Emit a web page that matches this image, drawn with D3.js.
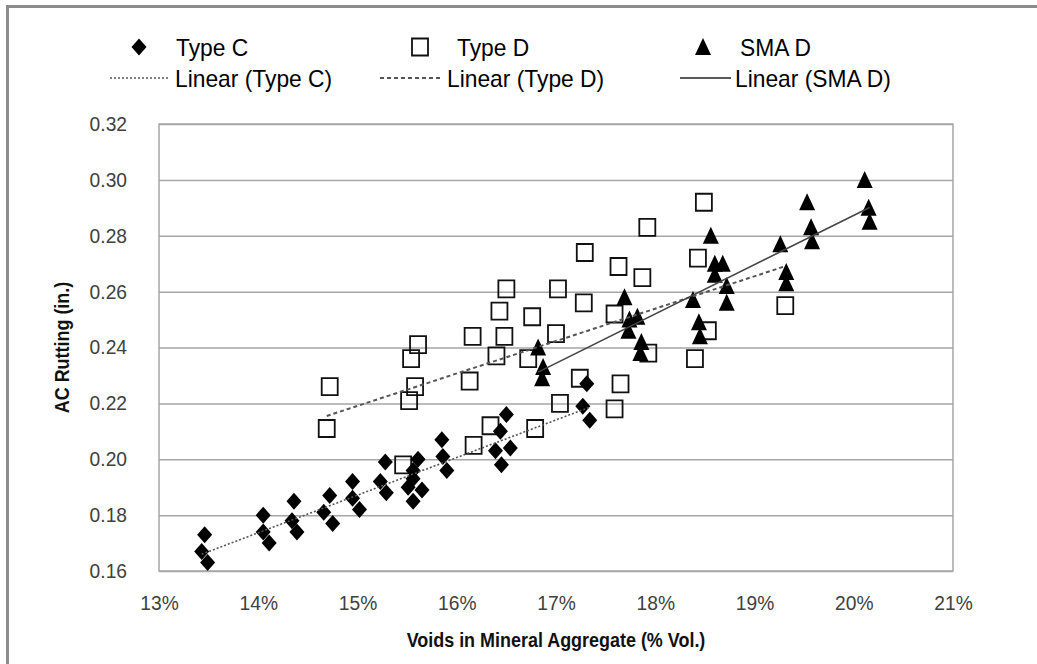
<!DOCTYPE html>
<html>
<head>
<meta charset="utf-8">
<script src="https://cdn.jsdelivr.net/npm/d3@7"></script>
<style>
  html, body { margin: 0; padding: 0; background: #fff; }
  svg { display: block; }
  text { font-family: "Liberation Sans", Arial, sans-serif; }
</style>
</head>
<body>
<svg id="chart" width="1037" height="664"></svg>
<script>
// VMA (%) and AC rutting (in.) for each mix type
const typeCVma = [13.46, 13.43, 13.49, 14.05, 14.05, 14.11, 14.36, 14.34, 14.39, 14.72, 14.66, 14.75,
  14.95, 14.95, 15.02, 15.28, 15.23, 15.29, 15.61, 15.56, 15.56, 15.51, 15.65, 15.56,
  15.85, 15.86, 15.90, 16.50, 16.44, 16.54, 16.39, 16.45, 17.31, 17.27, 17.34];
const typeCRut = [0.173, 0.167, 0.163, 0.180, 0.174, 0.170, 0.185, 0.178, 0.174, 0.187, 0.181, 0.177,
  0.192, 0.186, 0.182, 0.199, 0.192, 0.188, 0.200, 0.196, 0.193, 0.190, 0.189, 0.185,
  0.207, 0.201, 0.196, 0.216, 0.210, 0.204, 0.203, 0.198, 0.227, 0.219, 0.214];

const typeDVma = [14.69, 14.72, 15.46, 15.52, 15.58, 15.54, 15.61, 16.13, 16.16, 16.17, 16.34, 16.40,
  16.43, 16.48, 16.50, 16.72, 16.76, 16.79, 17.00, 17.02, 17.04, 17.24, 17.28, 17.29,
  17.59, 17.59, 17.63, 17.65, 17.87, 17.93, 17.92, 18.40, 18.43, 18.49, 18.53, 19.31];
const typeDRut = [0.211, 0.226, 0.198, 0.221, 0.226, 0.236, 0.241, 0.228, 0.244, 0.205, 0.212, 0.237,
  0.253, 0.244, 0.261, 0.236, 0.251, 0.211, 0.245, 0.261, 0.220, 0.229, 0.256, 0.274,
  0.218, 0.252, 0.269, 0.227, 0.265, 0.238, 0.283, 0.236, 0.272, 0.292, 0.246, 0.255];

const smaDVma = [16.82, 16.87, 16.86, 17.69, 17.74, 17.82, 17.73, 17.86, 17.85, 18.38, 18.44, 18.45,
  18.56, 18.60, 18.68, 18.60, 18.72, 18.72, 19.26, 19.32, 19.32, 19.53, 19.57, 19.58,
  20.11, 20.15, 20.16];
const smaDRut = [0.240, 0.233, 0.229, 0.258, 0.250, 0.251, 0.246, 0.242, 0.238, 0.257, 0.249, 0.244,
  0.280, 0.270, 0.270, 0.266, 0.262, 0.256, 0.277, 0.267, 0.263, 0.292, 0.283, 0.278,
  0.300, 0.290, 0.285];

const xTickValues = [13, 14, 15, 16, 17, 18, 19, 20, 21];
const yTickValues = [0.16, 0.18, 0.20, 0.22, 0.24, 0.26, 0.28, 0.30, 0.32];

const seriesNames = ["Type C", "Type D", "SMA D"];
const trendNames = ["Linear (Type C)", "Linear (Type D)", "Linear (SMA D)"];

const svg = d3.select("#chart");
const W = 1037, H = 664;
const plot = { left: 159, right: 953, top: 124, bottom: 571 };

const x = d3.scaleLinear().domain([13, 21]).range([plot.left, plot.right]);
const y = d3.scaleLinear().domain([0.16, 0.32]).range([plot.bottom, plot.top]);

const TICK_FONT = 20, LEGEND_FONT = 24, TITLE_FONT = 19.5;

// narrow the glyphs a little so the text runs like a condensed face
function condense(sel, k) {
  sel.each(function () {
    const len = this.getComputedTextLength();
    d3.select(this).attr("textLength", len * k).attr("lengthAdjust", "spacingAndGlyphs");
  });
}

// outer chart frame (top and left edges)
svg.append("path")
  .attr("d", `M7.5,${H} L7.5,6.5 L${W},6.5`)
  .attr("fill", "none").attr("stroke", "#8c8c8c").attr("stroke-width", 3);

// horizontal gridlines
svg.append("g")
  .attr("transform", `translate(${plot.left},0)`)
  .call(d3.axisLeft(y).tickValues(yTickValues).tickSize(-(plot.right - plot.left)).tickFormat(""))
  .call(g => g.select(".domain").remove())
  .call(g => g.selectAll(".tick line").attr("stroke", "#a6a6a6").attr("stroke-width", 1.5));

// plot frame
svg.append("rect")
  .attr("x", plot.left).attr("y", plot.top)
  .attr("width", plot.right - plot.left).attr("height", plot.bottom - plot.top)
  .attr("fill", "none").attr("stroke", "#a6a6a6").attr("stroke-width", 1.5);

// y tick labels
svg.append("g")
  .attr("transform", `translate(${plot.left},0)`)
  .call(d3.axisLeft(y).tickValues(yTickValues).tickSize(0).tickPadding(32).tickFormat(d3.format(".2f")))
  .call(g => g.select(".domain").remove())
  .call(g => g.selectAll("text").attr("font-size", TICK_FONT).attr("fill", "#404040")
    .style("font-family", null).call(condense, 0.96));
svg.selectAll("g").filter(function () { return false; });

// x tick labels
svg.append("g")
  .attr("transform", `translate(0,${plot.bottom})`)
  .call(d3.axisBottom(x).tickValues(xTickValues).tickSize(0).tickPadding(25).tickFormat(d => d + "%"))
  .call(g => g.select(".domain").remove())
  .call(g => g.selectAll("text").attr("font-size", TICK_FONT).attr("fill", "#404040")
    .style("font-family", null).call(condense, 0.96));

// axis titles
svg.append("text")
  .attr("x", (plot.left + plot.right) / 2).attr("y", 647)
  .attr("text-anchor", "middle").attr("font-size", TITLE_FONT).attr("font-weight", "bold")
  .attr("fill", "#111").text("Voids in Mineral Aggregate (% Vol.)")
  .call(condense, 0.92);

svg.append("text")
  .attr("transform", `translate(69,${(plot.top + plot.bottom) / 2}) rotate(-90)`)
  .attr("text-anchor", "middle").attr("font-size", TITLE_FONT).attr("font-weight", "bold")
  .attr("fill", "#111").text("AC Rutting (in.)")
  .call(condense, 0.92);

// marker shapes
const diamondPath = "M0,-8.5 L7.5,0 L0,8.5 L-7.5,0 Z";
const squarePath = "M-8,-8.5 L8,-8.5 L8,8.5 L-8,8.5 Z";
const trianglePath = "M0,-9 L8,8 L-8,8 Z";

// least-squares fit
function linearFit(xs, ys) {
  const n = xs.length;
  const mx = d3.mean(xs), my = d3.mean(ys);
  let sxy = 0, sxx = 0;
  for (let i = 0; i < n; i++) { sxy += (xs[i] - mx) * (ys[i] - my); sxx += (xs[i] - mx) ** 2; }
  const b = sxy / sxx, a = my - b * mx;
  const [x0, x1] = d3.extent(xs);
  return [[x0, a + b * x0], [x1, a + b * x1]];
}

const series = [
  { vma: typeDVma, rut: typeDRut, path: squarePath, fill: "none", stroke: "#111", sw: 1.8 },
  { vma: typeCVma, rut: typeCRut, path: diamondPath, fill: "#000", stroke: "none", sw: 0 },
  { vma: smaDVma, rut: smaDRut, path: trianglePath, fill: "#000", stroke: "none", sw: 0 }
];

series.forEach(s => {
  svg.append("g").selectAll("path")
    .data(d3.zip(s.vma, s.rut))
    .join("path")
    .attr("d", s.path)
    .attr("transform", d => `translate(${x(d[0])},${y(d[1])})`)
    .attr("fill", s.fill).attr("stroke", s.stroke).attr("stroke-width", s.sw);
});

// trendlines
const trendStyles = [
  { xs: typeCVma, ys: typeCRut, dash: "2,2", sw: 1.6, color: "#555" },
  { xs: typeDVma, ys: typeDRut, dash: "4,3", sw: 2, color: "#555" },
  { xs: smaDVma, ys: smaDRut, dash: null, sw: 1.6, color: "#444" }
];
const line = d3.line().x(d => x(d[0])).y(d => y(d[1]));
trendStyles.forEach(t => {
  svg.append("path")
    .attr("d", line(linearFit(t.xs, t.ys)))
    .attr("fill", "none").attr("stroke", t.color).attr("stroke-width", t.sw)
    .attr("stroke-dasharray", t.dash);
});

// legend
const legendMarks = [
  { x: 139, path: diamondPath, fill: "#000", stroke: "none", sw: 0, tx: 176 },
  { x: 420, path: squarePath, fill: "none", stroke: "#111", sw: 1.8, tx: 457 },
  { x: 703, path: trianglePath, fill: "#000", stroke: "none", sw: 0, tx: 740 }
];
const legendLines = [
  { x0: 110, x1: 170, dash: "2,2", sw: 1.6, color: "#555", tx: 175 },
  { x0: 380, x1: 443, dash: "4,3", sw: 2, color: "#555", tx: 447 },
  { x0: 680, x1: 731, dash: null, sw: 1.6, color: "#222", tx: 735 }
];
const leg = svg.append("g");
legendMarks.forEach((m, i) => {
  leg.append("path").attr("d", m.path).attr("transform", `translate(${m.x},47)`)
    .attr("fill", m.fill).attr("stroke", m.stroke).attr("stroke-width", m.sw);
  leg.append("text").attr("x", m.tx).attr("y", 47).attr("dy", "0.36em")
    .attr("font-size", LEGEND_FONT).attr("fill", "#000").text(seriesNames[i])
    .call(condense, 0.95);
});
legendLines.forEach((l, i) => {
  leg.append("line").attr("x1", l.x0).attr("x2", l.x1).attr("y1", 78).attr("y2", 78)
    .attr("stroke", l.color).attr("stroke-width", l.sw).attr("stroke-dasharray", l.dash);
  leg.append("text").attr("x", l.tx).attr("y", 78).attr("dy", "0.36em")
    .attr("font-size", LEGEND_FONT).attr("fill", "#000").text(trendNames[i])
    .call(condense, 0.95);
});
</script>
</body>
</html>
